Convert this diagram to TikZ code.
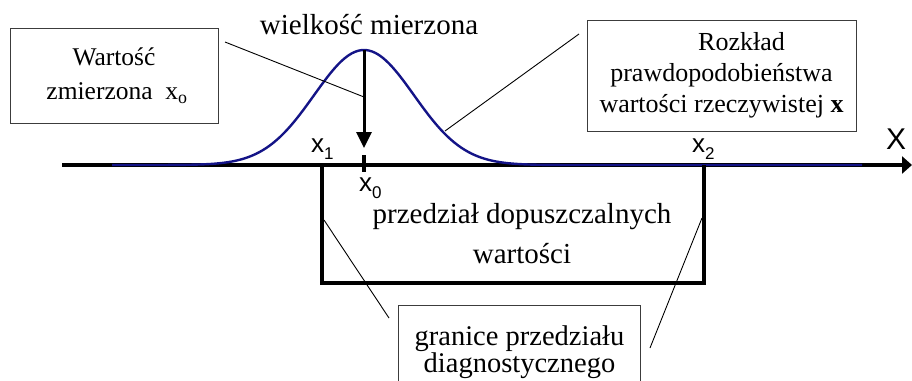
\documentclass[tikz,border=0pt]{standalone}
\usepackage{xcolor}
\usepackage{fontspec}
\setmainfont{Liberation Serif}
\setsansfont{Liberation Sans}
\usepackage{tikz}
\usetikzlibrary{arrows.meta, positioning}
\definecolor{mynavy}{RGB}{20,20,135}
\definecolor{mydark}{RGB}{0,0,0}
\definecolor{mgframe}{RGB}{60,60,60}
\newcommand{\subx}[1]{x\raisebox{-7pt}{\fontsize{17}{17}\selectfont #1}}
\tikzset{
  infobox/.style={rectangle, draw=mgframe, line width=1pt, align=center,
    inner sep=0pt, fill=white},
  leader/.style={thin, color=mydark, line width=0.9pt},
  axislab/.style={anchor=base west, inner sep=0pt,
    font=\sffamily\fontsize{26}{26}\selectfont},
  bigarrow/.style={-{Triangle[length=16pt, width=15pt]}, line width=3pt, color=mydark},
  axisarrow/.style={-{Triangle[length=10pt, width=17pt]}, line width=3.5pt, color=mydark},
  gauss/.style={mynavy, line width=2.4pt, line join=round}
}

\begin{document}
\begin{tikzpicture}[x=1pt, y=-1pt]
  \useasboundingbox (0,0) rectangle (912,380);

  % Axis
  \coordinate (axstart) at (62,165);
  \coordinate (axend) at (912,165);
  \draw[axisarrow] (axstart) -- (axend);
  \node[axislab, font=\sffamily\fontsize{30}{30}\selectfont] (xaxis) at (886,149) {X};

  % Probability curve
  \draw[gauss] plot[domain=112:862, samples=220]
    (\x, {165 - 115*exp(-0.5*((\x-364)/50)^2)});

  % Measured value
  \coordinate (peak) at (364,50);
  \coordinate (tip) at (364,148);
  \draw[bigarrow] (peak) -- (tip);
  \coordinate (tickup) at (364,155);
  \coordinate (tickdn) at (364,172);
  \draw[line width=4pt] (tickup) -- (tickdn);
  \node[axislab] (xzero) at (359,191) {\subx{0}};
  \node[anchor=base, inner sep=0pt, font=\fontsize{29}{29}\selectfont] (wielk) at (369,34) {wielkość mierzona};

  % Interval
  \coordinate (lo) at (322,165);
  \coordinate (hi) at (704,165);
  \draw[line width=3.8pt, line join=miter] (lo) -- (322,283) -- (704,283) -- (hi);
  \node[axislab] (xone) at (311,152) {\subx{1}};
  \node[axislab] (xtwo) at (692,152) {\subx{2}};
  \node[align=center, inner sep=0pt, font=\fontsize{29}{40}\selectfont] (przedz) at (522,234)
    {przedział dopuszczalnych\\wartości};

  % Boxes
  \node[infobox, minimum width=208pt, minimum height=95pt,
    font=\fontsize{25.5}{34}\selectfont] (wart) at (114,75.5)
    {Wartość\\\hspace*{6pt}zmierzona~~x\textsubscript{o}};
  \node[infobox, minimum width=269pt, minimum height=111pt,
    font=\fontsize{26}{31}\selectfont] (rozk) at (721.5,75.5)
    {\hspace*{40pt}Rozkład\\prawdopodobieństwa\\wartości rzeczywistej \textbf{x}};
  \node[infobox, minimum width=242pt, minimum height=95pt,
    font=\fontsize{28.5}{27}\selectfont] (gran) at (519.5,352.5)
    {granice przedziału\\diagnostycznego};

  % Leaders
  \coordinate (wartend) at (225,42);
  \coordinate (onarrow) at (364,97);
  \draw[leader] (wartend) -- (onarrow);
  \coordinate (rozkend) at (579,34);
  \coordinate (oncurve) at (445,131);
  \draw[leader] (rozkend) -- (oncurve);
  \coordinate (loside) at (324,220);
  \coordinate (granl) at (389,318);
  \draw[leader] (loside) -- (granl);
  \coordinate (hiside) at (702,218);
  \coordinate (granr) at (650,348);
  \draw[leader] (hiside) -- (granr);
\end{tikzpicture}
\end{document}
